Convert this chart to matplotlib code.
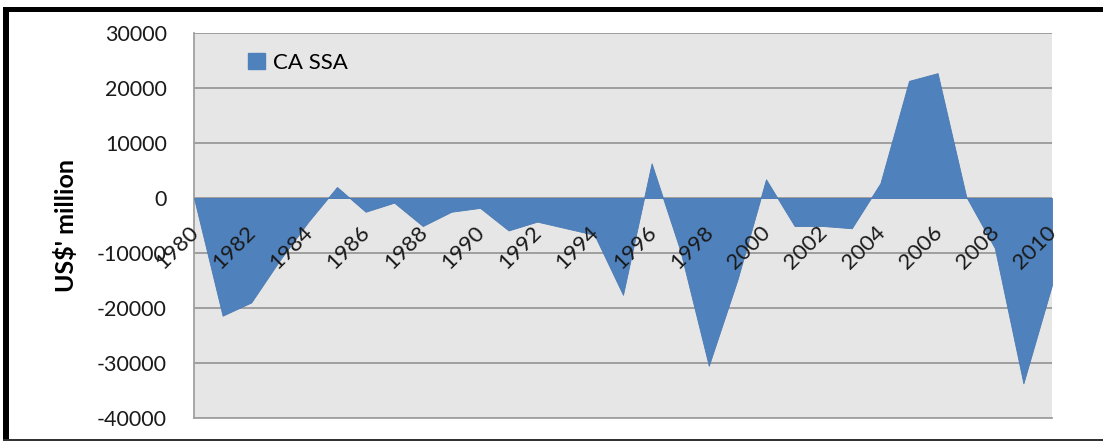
import matplotlib
matplotlib.use("Agg")
import matplotlib.pyplot as plt
from matplotlib.patches import Rectangle, Patch
import numpy as np

years = list(range(1980, 2011))
ca_ssa = [0, -21400, -19000, -11300, -4300, 2000, -2500, -850, -5100, -2500,
          -1800, -5900, -4300, -5500, -6700, -17600, 6300, -9500, -30500, -14900,
          3400, -5100, -5100, -5500, 2700, 21300, 22700, 250, -9100, -33700, -15800]
yticks = [30000, 20000, 10000, 0, -10000, -20000, -30000, -40000]
xtick_years = years[::2]
series_name = "CA SSA"
ylabel = "US$' million"

plt.rcParams['font.family'] = ['Lato', 'DejaVu Sans']

W, H = 1103, 441
fig = plt.figure(figsize=(W / 100, H / 100), dpi=100)
fig.patch.set_facecolor('white')

ax = fig.add_axes([194 / W, 1 - 418 / H, (1052 - 194) / W, (418 - 33) / H])
ax.set_facecolor('#e6e6e6')

x = np.arange(len(years))
ax.fill_between(x, ca_ssa, 0, color='#4f81bd', linewidth=0.6, edgecolor='#4a7ab3', zorder=3)

ymin, ymax = -40000, 30000
ax.set_ylim(ymin, ymax)
ax.set_xlim(x[0], x[-1])
ax.set_yticks(yticks)
ax.set_yticklabels([str(v) for v in yticks], fontsize=15.5, color='#1a1a1a')
ax.tick_params(axis='y', length=0, pad=19.5)
ax.grid(axis='y', color='#999999', linewidth=1.3, zorder=1)
ax.set_axisbelow(True)
ax.set_xticks([])

for s in ['top', 'right']:
    ax.spines[s].set_visible(False)
for s in ['left', 'bottom']:
    ax.spines[s].set_color('#a0a0a0')
    ax.spines[s].set_linewidth(1.3)

ax.set_ylabel(ylabel, fontsize=18, fontweight='bold', labelpad=13.5)

# category axis labels at the zero line
for yr in xtick_years:
    i = years.index(yr)
    ax.annotate(str(yr), xy=(x[i], 0), xycoords='data', xytext=(1, -22.5),
                textcoords='offset points', rotation=45, ha='right', va='center',
                rotation_mode='anchor', fontsize=16, color='#1a1a1a', zorder=6,
                annotation_clip=False)

ax.legend(handles=[Patch(facecolor='#4f81bd', edgecolor='#4f81bd', label=series_name)],
          loc='upper left', bbox_to_anchor=(0.040, 1.0), frameon=False,
          fontsize=16, handlelength=0.75, handleheight=0.75, handletextpad=0.35)

# outer border lines
fig.add_artist(Rectangle((3 / W, 0), 6 / W, 1 - 7 / H, transform=fig.transFigure,
                         facecolor='black', edgecolor='none'))
fig.add_artist(Rectangle((3 / W, 1 - 12 / H), 1 - 3 / W, 5 / H, transform=fig.transFigure,
                         facecolor='black', edgecolor='none'))
fig.add_artist(Rectangle((3 / W, 0), 1 - 3 / W, 2 / H, transform=fig.transFigure,
                         facecolor='#333333', edgecolor='none'))

fig.savefig('out.png', dpi=100)
